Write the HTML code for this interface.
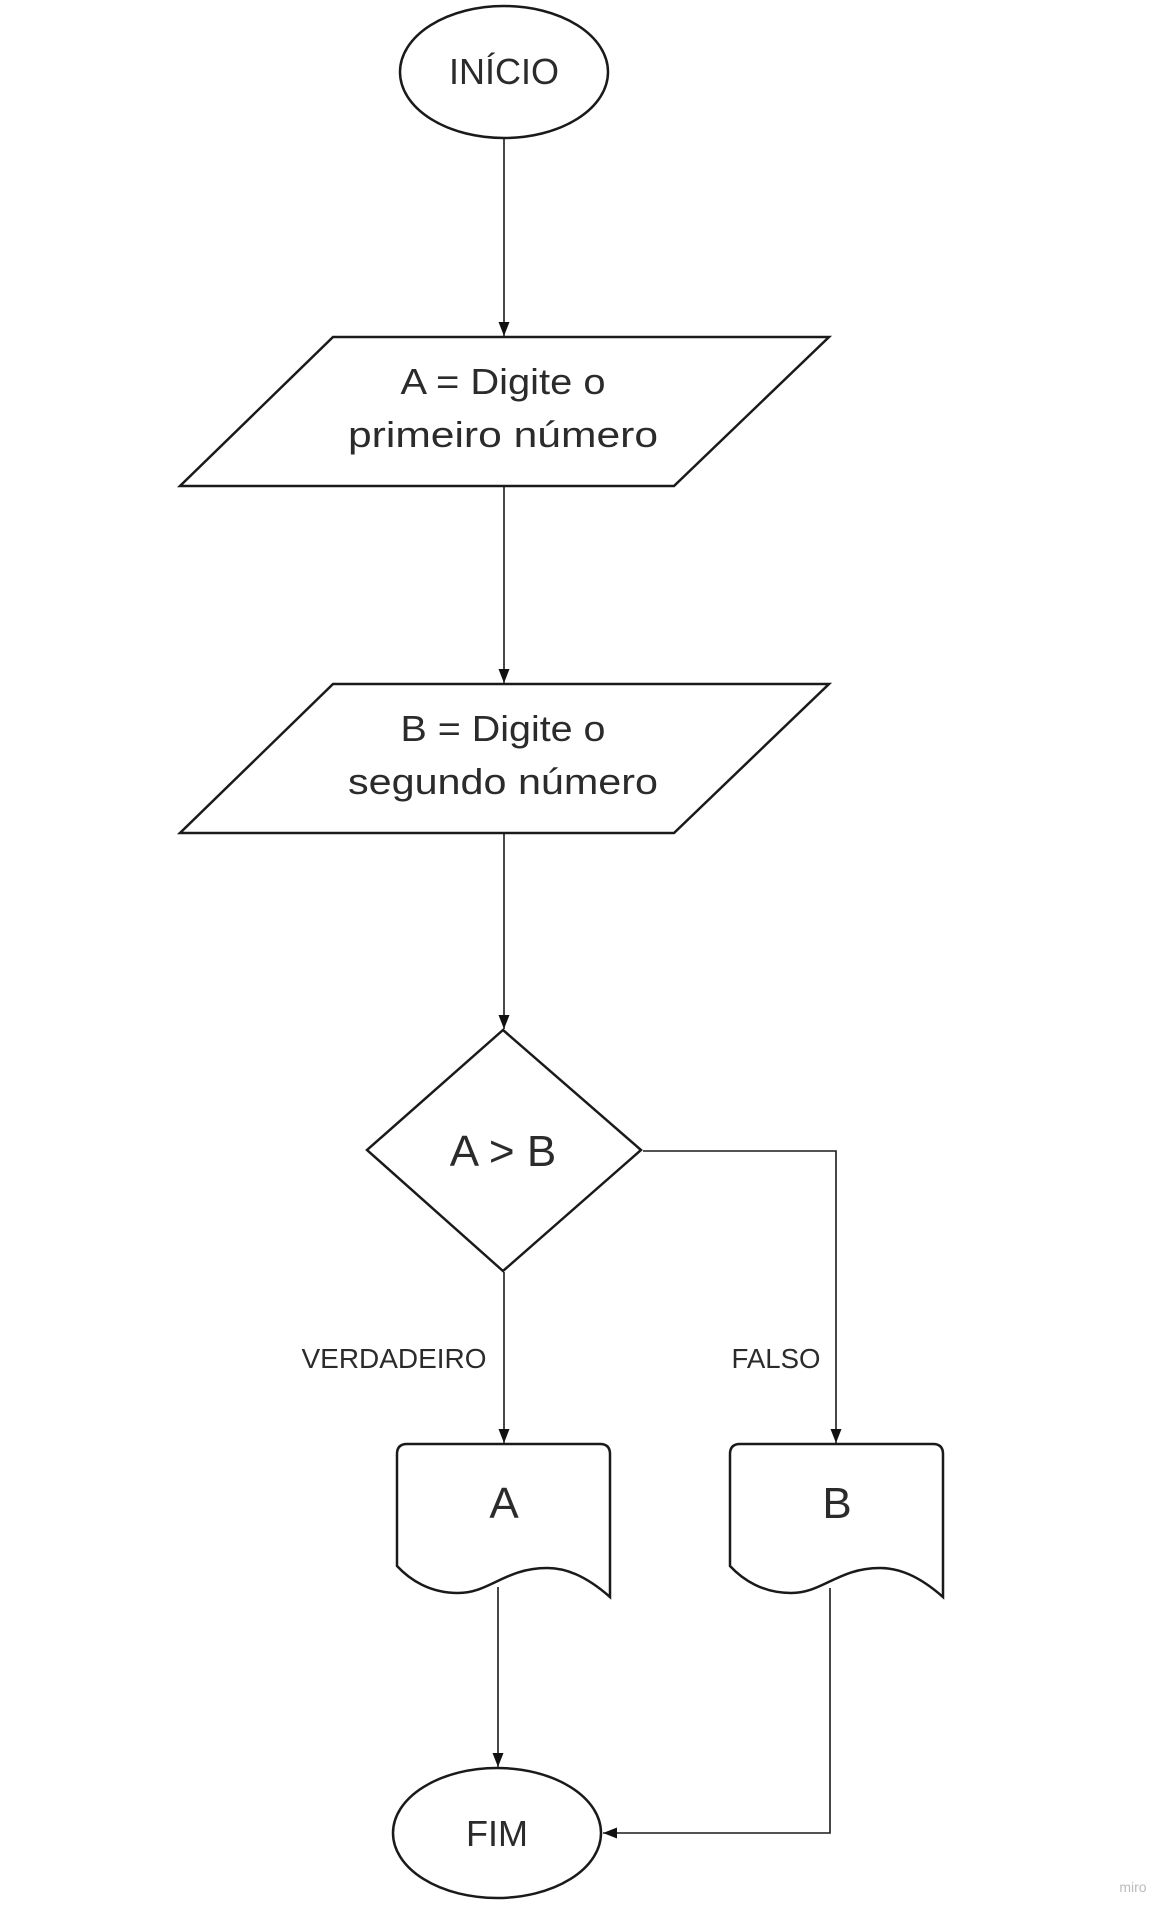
<!DOCTYPE html>
<html><head><meta charset="utf-8"><style>
html,body{margin:0;padding:0;background:#fff;}
svg{display:block}
text{font-family:"Liberation Sans",sans-serif;fill:#2b2b2b}
</style></head><body>
<svg width="1176" height="1912" viewBox="0 0 1176 1912" xmlns="http://www.w3.org/2000/svg">
<defs>
<marker id="ah" markerWidth="12" markerHeight="18" refX="14" refY="9" orient="auto" markerUnits="userSpaceOnUse">
<path d="M0,3.5 L14,9 L0,14.5 Z" fill="#111"/>
</marker>
</defs>
<g fill="#fff" stroke="#1a1a1a" stroke-width="2.5">
<ellipse cx="504" cy="72" rx="104" ry="66"/>
<polygon points="333,337 829,337 674,486 180,486"/>
<polygon points="333,684 829,684 674,833 180,833"/>
<polygon points="503,1030 641,1150 503,1271 367,1150"/>
<path d="M397,1566 L397,1454 Q397,1444 407,1444 L600,1444 Q610,1444 610,1454 L610,1597 C585,1575 565,1568 547,1568 C505,1568 490,1593 458,1593 C430,1593 410,1580 397,1566 Z"/>
<path d="M730,1566 L730,1454 Q730,1444 740,1444 L933,1444 Q943,1444 943,1454 L943,1597 C918,1575 898,1568 880,1568 C838,1568 823,1593 791,1593 C763,1593 743,1580 730,1566 Z"/>
<ellipse cx="497" cy="1833" rx="104" ry="65"/>
</g>
<g stroke="#1a1a1a" stroke-width="1.6" fill="none">
<line x1="504" y1="139" x2="504" y2="336" marker-end="url(#ah)"/>
<line x1="504" y1="487" x2="504" y2="683" marker-end="url(#ah)"/>
<line x1="504" y1="834" x2="504" y2="1029" marker-end="url(#ah)"/>
<line x1="504" y1="1272" x2="504" y2="1443" marker-end="url(#ah)"/>
<polyline points="643,1151 836,1151 836,1443" marker-end="url(#ah)"/>
<line x1="498" y1="1587" x2="498" y2="1767" marker-end="url(#ah)"/>
<polyline points="830,1588 830,1833 603,1833" marker-end="url(#ah)"/>
</g>
<g text-anchor="middle">
<text x="504" y="84" font-size="36">INÍCIO</text>
<text x="503" y="394" font-size="36" textLength="205" lengthAdjust="spacingAndGlyphs">A = Digite o</text>
<text x="503" y="447" font-size="36" textLength="310" lengthAdjust="spacingAndGlyphs">primeiro número</text>
<text x="503" y="741" font-size="36" textLength="205" lengthAdjust="spacingAndGlyphs">B = Digite o</text>
<text x="503" y="794" font-size="36" textLength="310" lengthAdjust="spacingAndGlyphs">segundo número</text>
<text x="503" y="1166" font-size="44">A &gt; B</text>
<text x="394" y="1368" font-size="28" textLength="185" lengthAdjust="spacingAndGlyphs">VERDADEIRO</text>
<text x="776" y="1368" font-size="28" textLength="89" lengthAdjust="spacingAndGlyphs">FALSO</text>
<text x="504" y="1518" font-size="44">A</text>
<text x="837" y="1518" font-size="44">B</text>
<text x="497" y="1846" font-size="36">FIM</text>
<text x="1133" y="1892" font-size="14" style="fill:#bbb">miro</text>
</g>
</svg>
</body></html>
